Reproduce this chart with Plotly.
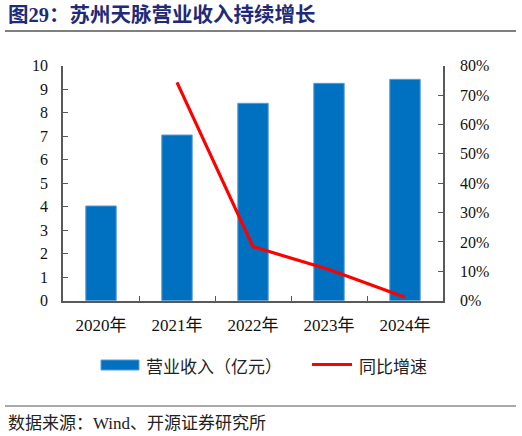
import plotly.graph_objects as go

years = ["2020年", "2021年", "2022年", "2023年", "2024年"]
revenue = [4.03, 7.05, 8.40, 9.25, 9.42]          # 营业收入（亿元）
yoy = [None, 0.743, 0.184, 0.106, 0.012]           # 同比增速

W, H = 522, 436
serif = "Liberation Serif, Noto Sans CJK SC"
cjk = "Noto Sans CJK SC"
axis_col = "#595959"

def px(x):
    return x / W

def py(y):
    return 1 - y / H

fig = go.Figure()
fig.add_trace(go.Bar(x=years, y=revenue, name="营业收入（亿元）",
                     marker=dict(color="#0070C0", line=dict(color="#5B9BD5", width=1)),
                     width=0.4, showlegend=False))
fig.add_trace(go.Scatter(x=years, y=yoy, name="同比增速", yaxis="y2", mode="lines",
                         line=dict(color="#FF0000", width=3.2), showlegend=False))

fig.update_layout(
    width=W, height=H,
    margin=dict(l=0, r=0, t=0, b=0),
    plot_bgcolor="white", paper_bgcolor="white",
    font=dict(family=serif, size=16, color="#111111"),
    xaxis=dict(domain=[px(63), px(443)], type="category", showline=True, linecolor=axis_col,
               linewidth=1.5, ticks="inside", tickson="boundaries", ticklen=5, tickcolor=axis_col,
               showgrid=False, automargin=False, ticklabelstandoff=8,
               tickfont=dict(family=serif, size=17)),
    yaxis=dict(domain=[py(300.7), py(65.7)], range=[0, 10], dtick=1, showline=True, linecolor=axis_col,
               linewidth=1.5, ticks="inside", ticklen=5, tickcolor=axis_col, showgrid=False,
               zeroline=False, automargin=False, ticklabelstandoff=10,
               tickfont=dict(family=serif, size=16)),
    yaxis2=dict(overlaying="y", side="right", anchor="x", range=[0, 0.8], dtick=0.1, tickformat=".0%",
                showline=True, linecolor=axis_col, linewidth=1.5, ticks="inside", ticklen=5,
                tickcolor=axis_col, showgrid=False, zeroline=False, automargin=False,
                ticklabelstandoff=12, tickfont=dict(family=serif, size=16)),
)

shapes = [
    dict(type="line", xref="paper", yref="paper", x0=px(5), x1=px(516), y0=py(31), y1=py(31),
         line=dict(color="#555555", width=1.5)),
    dict(type="line", xref="paper", yref="paper", x0=px(5), x1=px(516), y0=py(406), y1=py(406),
         line=dict(color="#555555", width=1)),
    # legend swatches
    dict(type="rect", xref="paper", yref="paper", x0=px(101), x1=px(139), y0=py(370), y1=py(360),
         fillcolor="#0070C0", line=dict(color="#5B9BD5", width=1)),
    dict(type="line", xref="paper", yref="paper", x0=px(312), x1=px(352), y0=py(364.5), y1=py(364.5),
         line=dict(color="#FF0000", width=3)),
]
fig.update_layout(shapes=shapes)

annotations = [
    dict(text="<b>图29：苏州天脉营业收入持续增长</b>", x=px(6), y=py(15), xanchor="left", yanchor="middle",
         font=dict(family=serif, size=20.5, color="#1F2A78")),
    dict(text="营业收入（亿元）", x=px(144), y=py(365), xanchor="left", yanchor="middle",
         font=dict(family=cjk, size=17, color="#222222")),
    dict(text="同比增速", x=px(357), y=py(365), xanchor="left", yanchor="middle",
         font=dict(family=cjk, size=17, color="#222222")),
    dict(text="数据来源：Wind、开源证券研究所", x=px(6), y=py(423), xanchor="left", yanchor="middle",
         font=dict(family=serif, size=17, color="#222222")),
]
for a in annotations:
    a.update(xref="paper", yref="paper", showarrow=False)
fig.update_layout(annotations=annotations)

fig.write_html("out.html", config={"displayModeBar": False},
               post_script="document.body.style.margin='0';")
